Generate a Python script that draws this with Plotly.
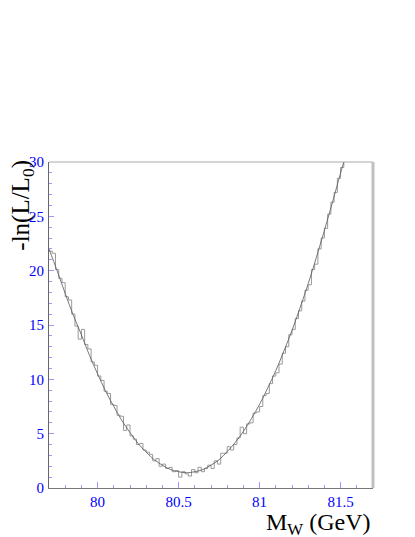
import plotly.graph_objects as go

# fit curve (smooth)
fit_x = [79.70, 79.75, 79.80, 79.85, 79.90, 79.95, 80.00, 80.05, 80.10, 80.15,
         80.20, 80.25, 80.30, 80.35, 80.40, 80.45, 80.50, 80.55, 80.60, 80.65,
         80.70, 80.75, 80.80, 80.85, 80.90, 80.95, 81.00, 81.05, 81.10, 81.15,
         81.20, 81.25, 81.30, 81.35, 81.40, 81.45, 81.50, 81.52]
fit_y = [22.0, 20.0, 17.9, 15.9, 14.1, 12.2, 10.5, 8.9, 7.5, 6.2,
         5.1, 4.1, 3.3, 2.6, 2.1, 1.7, 1.5, 1.4, 1.5, 1.7,
         2.1, 2.6, 3.35, 4.2, 5.2, 6.4, 7.7, 9.2, 10.8, 12.6,
         14.5, 16.6, 18.8, 21.2, 23.7, 26.3, 29.0, 30.0]

# histogram (bin lower edges, width 0.02)
hist_x = [79.70, 79.72, 79.74, 79.76, 79.78, 79.80, 79.82, 79.84, 79.86, 79.88,
          79.90, 79.92, 79.94, 79.96, 79.98, 80.00, 80.02, 80.04, 80.06, 80.08,
          80.10, 80.12, 80.14, 80.16, 80.18, 80.20, 80.22, 80.24, 80.26, 80.28,
          80.30, 80.32, 80.34, 80.36, 80.38, 80.40, 80.42, 80.44, 80.46, 80.48,
          80.50, 80.52, 80.54, 80.56, 80.58, 80.60, 80.62, 80.64, 80.66, 80.68,
          80.70, 80.72, 80.74, 80.76, 80.78, 80.80, 80.82, 80.84, 80.86, 80.88,
          80.90, 80.92, 80.94, 80.96, 80.98, 81.00, 81.02, 81.04, 81.06, 81.08,
          81.10, 81.12, 81.14, 81.16, 81.18, 81.20, 81.22, 81.24, 81.26, 81.28,
          81.30, 81.32, 81.34, 81.36, 81.38, 81.40, 81.42, 81.44, 81.46, 81.48,
          81.50, 81.52, 81.54]
hist_y = [21.8, 21.6, 20.1, 19.3, 18.9, 17.6, 17.3, 16.0, 14.9, 13.7,
          14.6, 13.2, 12.8, 11.6, 11.3, 10.3, 9.9, 8.9, 8.7, 7.7,
          7.6, 6.7, 6.6, 5.3, 5.8, 4.8, 4.5, 4.0, 4.1, 3.5,
          3.3, 3.1, 2.5, 2.7, 2.0, 2.2, 1.8, 1.9, 1.5, 1.6,
          1.0, 1.5, 1.3, 1.1, 1.7, 1.4, 1.9, 1.5, 1.8, 2.1,
          1.8, 2.5, 2.2, 3.2, 3.2, 3.8, 3.5, 4.0, 4.6, 5.6,
          5.0, 5.9, 6.0, 6.9, 7.0, 7.5, 8.5, 8.7, 9.6, 10.3,
          10.6, 11.4, 12.4, 13.0, 14.1, 14.6, 15.6, 16.3, 17.2, 18.2,
          18.7, 20.1, 20.6, 22.0, 23.0, 23.9, 25.2, 26.3, 27.2, 28.5,
          29.5, 30.8, 30.8]

fig = go.Figure()
fig.add_trace(go.Scatter(x=hist_x, y=hist_y, mode="lines", line_shape="hv",
                         line=dict(color="#9a9a9a", width=1), hoverinfo="skip"))
fig.add_trace(go.Scatter(x=fit_x, y=fit_y, mode="lines", line_shape="spline",
                         line=dict(color="#555555", width=0.8), hoverinfo="skip"))

tick_font = dict(family="Liberation Serif", size=15, color="#0000ff")
# page body adds an 8px margin, so margins are shifted by that
fig.update_layout(
    width=415, height=537,
    margin=dict(l=41, r=50, t=154, b=57),
    paper_bgcolor="white", plot_bgcolor="white",
    showlegend=False,
    xaxis=dict(range=[79.7, 81.7], dtick=0.5, tick0=80, showgrid=False, zeroline=False,
               showline=True, linecolor="#777777", linewidth=1,
               ticks="inside", ticklen=6, tickcolor="#9999ff", tickfont=tick_font,
               minor=dict(dtick=0.1, ticks="inside", ticklen=3, tickcolor="#9999ff")),
    yaxis=dict(range=[0, 30], dtick=5, showgrid=False, zeroline=False,
               showline=True, linecolor="#666666", linewidth=1,
               ticks="inside", ticklen=5, tickcolor="#9999ff", tickfont=tick_font,
               ticklabelstandoff=1,
               minor=dict(dtick=1, ticks="inside", ticklen=3, tickcolor="#9999ff")),
    shapes=[
        dict(type="line", xref="paper", yref="paper", x0=0, x1=1, y0=1, y1=1,
             line=dict(color="#aaaaaa", width=1)),
        dict(type="line", xref="paper", yref="paper", x0=1, x1=1, y0=0, y1=1,
             line=dict(color="#c0c0c0", width=3)),
    ],
    annotations=[
        dict(text="-ln(L/L<sub>0</sub>)", xref="paper", yref="paper", x=-0.083, y=1.012,
             xanchor="center", yanchor="top", textangle=-90, showarrow=False,
             font=dict(family="Liberation Serif", size=25, color="black")),
        dict(text="M<sub>W</sub> (GeV)", xref="paper", yref="paper", x=1.0, y=-0.058,
             xanchor="right", yanchor="top", showarrow=False,
             font=dict(family="Liberation Serif", size=24, color="black")),
    ],
)

fig.write_html("out.html")
